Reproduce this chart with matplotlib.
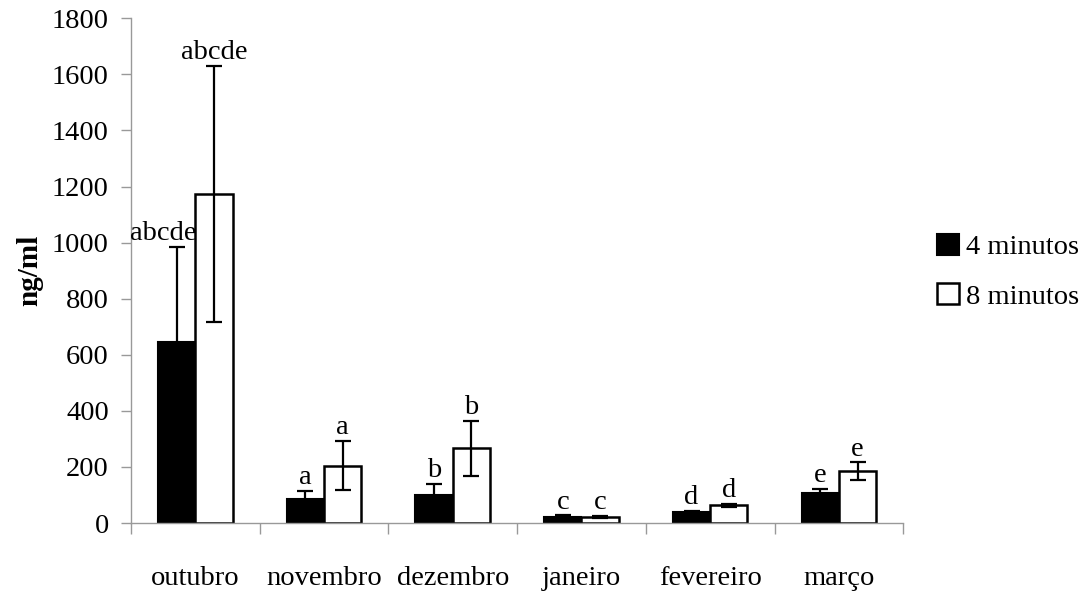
import matplotlib.pyplot as plt
import numpy as np

plt.rcParams['font.family'] = ['Liberation Serif', 'DejaVu Serif']

# monthly means (ng/ml) and their errors
meses = ['outubro', 'novembro', 'dezembro', 'janeiro', 'fevereiro', 'março']
min4 = [644, 86, 101, 22, 38, 108]
min4_err = [342, 28, 38, 5, 4, 13]
min8 = [1173, 205, 266, 22, 63, 184]
min8_err = [457, 86, 97, 3, 5, 32]
letras = ['abcde', 'a', 'b', 'c', 'd', 'e']

fig = plt.figure(figsize=(10.83, 5.91), dpi=100)
ax = fig.add_axes([0.121, 0.115, 0.713, 0.854])

x = np.arange(len(meses))
w = 0.29
ekw = dict(ecolor='black', elinewidth=1.6, capsize=6, capthick=1.6)
ax.bar(x - w / 2, min4, w, yerr=min4_err, color='black', edgecolor='black',
       linewidth=1.5, error_kw=ekw, label='4 minutos', zorder=2)
ax.bar(x + w / 2, min8, w, yerr=min8_err, color='white', edgecolor='black',
       linewidth=1.8, error_kw=ekw, label='8 minutos', zorder=2)

# significance letters above each error bar
for i in range(len(meses)):
    dx = -10 if i == 0 else 0
    ax.annotate(letras[i], (x[i] - w / 2, min4[i] + min4_err[i]),
                xytext=(dx, 5), textcoords='offset points',
                ha='center', va='baseline', fontsize=20.5)
    ax.annotate(letras[i], (x[i] + w / 2, min8[i] + min8_err[i]),
                xytext=(0, 5), textcoords='offset points',
                ha='center', va='baseline', fontsize=20.5)

ax.set_xlim(-0.5, len(meses) - 0.5)
ax.set_ylim(0, 1800)
ax.set_yticks(np.arange(0, 1801, 200))
ax.set_xticks(np.arange(-0.5, len(meses), 1.0))
ax.set_xticklabels([])
ax.set_xticks(x, minor=True)
ax.set_xticklabels(meses, minor=True)
ax.tick_params(axis='x', which='major', length=8, color='#999999', width=1)
ax.tick_params(axis='x', which='minor', length=0, pad=31, labelsize=20.5)
ax.tick_params(axis='y', length=7, color='#999999', width=1, pad=9, labelsize=20.5)

for s in ['top', 'right']:
    ax.spines[s].set_visible(False)
for s in ['left', 'bottom']:
    ax.spines[s].set_color('#999999')
    ax.spines[s].set_linewidth(1)

ax.set_ylabel('ng/ml', fontsize=21, fontweight='bold', labelpad=6)

fig.legend(loc='center left', bbox_to_anchor=(0.855, 0.54), frameon=False,
           fontsize=20.5, handlelength=0.75, handleheight=0.75,
           handletextpad=0.25, labelspacing=0.8, borderaxespad=0)

fig.savefig('out.png', dpi=100)
